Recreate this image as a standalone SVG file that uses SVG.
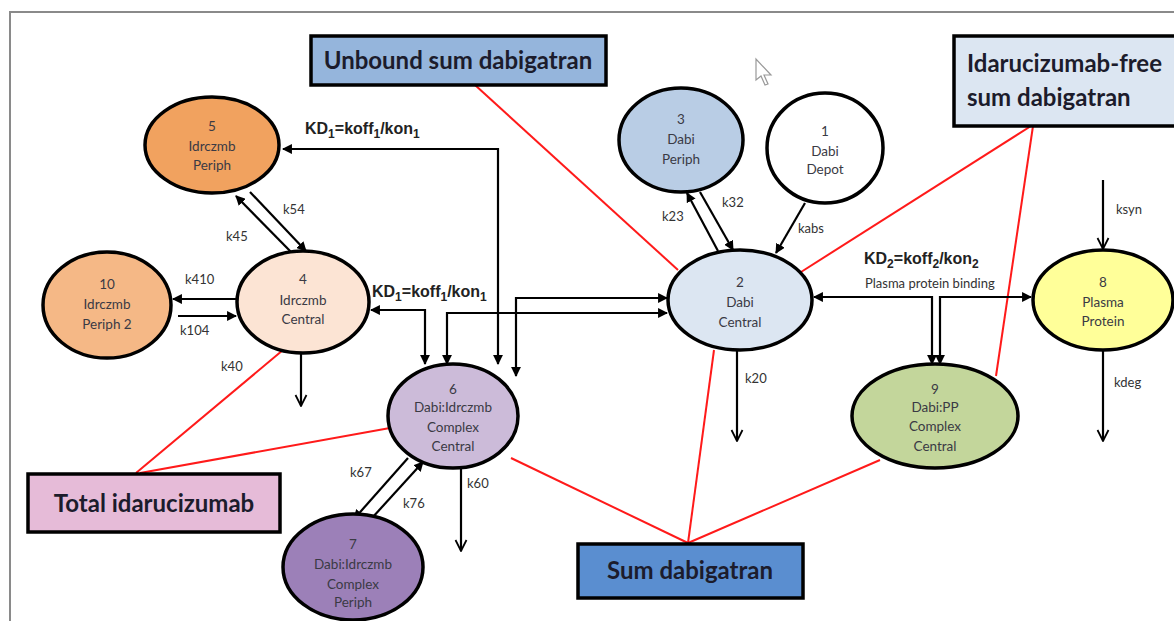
<svg xmlns="http://www.w3.org/2000/svg" width="1174" height="621" viewBox="0 0 1174 621">
<defs>
<marker id="tri" viewBox="0 0 10 10" refX="9" refY="5" markerWidth="4.5" markerHeight="4.5" orient="auto-start-reverse" markerUnits="strokeWidth">
<path d="M0,0 L10,5 L0,10 z" fill="#000"/>
</marker>
<marker id="vee" viewBox="0 0 12 12" refX="11" refY="6" markerWidth="6" markerHeight="6" orient="auto" markerUnits="strokeWidth">
<path d="M1,1 L11,6 L1,11" fill="none" stroke="#000" stroke-width="1.6"/>
</marker>
<style>
.node ellipse{stroke:#000;stroke-width:3.5}
.nt{font-family:Lato,"Liberation Sans",sans-serif;font-size:13.5px;fill:#3a3a44;text-anchor:middle}
.box rect{stroke:#000;stroke-width:3.5}
.bt{font-family:Lato,"Liberation Sans",sans-serif;font-weight:bold;font-size:24px;fill:#1c1c2c}
.ln{stroke:#000;stroke-width:2.2;fill:none}
.red{stroke:#ff1a1a;stroke-width:2;fill:none}
.k{font-family:Lato,"Liberation Sans",sans-serif;font-size:13px;fill:#333}
.kd{font-family:"Liberation Sans",Arial,sans-serif;font-weight:bold;font-size:16px;fill:#222}
.sub{font-size:12px}
</style>
</defs>
<rect width="1174" height="621" fill="#fff"/>
<path d="M10,621 L10,12 L1174,12" fill="none" stroke="#8a8a8a" stroke-width="2"/>
<path d="M756,59 L756,80 L761,76 L765,85 L768,84 L764,75 L771,75 Z" fill="#fff" stroke="#999" stroke-width="1.2"/>

<g id="connectors">
<line class="red" x1="475" y1="85" x2="678" y2="270"/>
<line class="red" x1="1031" y1="126" x2="801" y2="272"/>
<line class="red" x1="1033" y1="126" x2="996" y2="376"/>
<line class="red" x1="136" y1="473" x2="283" y2="350"/>
<line class="red" x1="140" y1="473" x2="390" y2="428"/>
<line class="red" x1="688" y1="543" x2="511" y2="458"/>
<line class="red" x1="688" y1="543" x2="714" y2="350"/>
<line class="red" x1="688" y1="543" x2="880" y2="460"/>

<line class="ln" x1="250" y1="192" x2="306" y2="251" marker-end="url(#tri)"/>
<line class="ln" x1="294" y1="255" x2="236" y2="196" marker-end="url(#tri)"/>
<line class="ln" x1="237" y1="299" x2="173" y2="299" marker-end="url(#tri)"/>
<line class="ln" x1="178" y1="316" x2="236" y2="316" marker-end="url(#tri)"/>
<line class="ln" x1="301" y1="354" x2="301" y2="406" marker-end="url(#vee)"/>
<polyline class="ln" points="283,149 498,149 498,364" marker-start="url(#tri)" marker-end="url(#tri)"/>
<polyline class="ln" points="371,310 425,310 425,364" marker-start="url(#tri)" marker-end="url(#tri)"/>
<polyline class="ln" points="667,313 447,313 447,364" marker-start="url(#tri)" marker-end="url(#tri)"/>
<polyline class="ln" points="667,298 516,298 516,376" marker-start="url(#tri)" marker-end="url(#tri)"/>
<line class="ln" x1="718" y1="251" x2="687" y2="193" marker-end="url(#tri)"/>
<line class="ln" x1="700" y1="192" x2="733" y2="250" marker-end="url(#tri)"/>
<line class="ln" x1="805" y1="203" x2="776" y2="253" marker-end="url(#tri)"/>
<line class="ln" x1="737" y1="351" x2="737" y2="441" marker-end="url(#vee)"/>
<polyline class="ln" points="814,297 932,297 932,364" marker-start="url(#tri)" marker-end="url(#tri)"/>
<polyline class="ln" points="1031,297 940,297 940,364" marker-start="url(#tri)" marker-end="url(#tri)"/>
<line class="ln" x1="1103" y1="180" x2="1103" y2="249" marker-end="url(#vee)"/>
<line class="ln" x1="1103" y1="351" x2="1103" y2="441" marker-end="url(#vee)"/>
<line class="ln" x1="408" y1="458" x2="354" y2="519" marker-end="url(#tri)"/>
<line class="ln" x1="372" y1="518" x2="423" y2="462" marker-end="url(#tri)"/>
<line class="ln" x1="461" y1="469" x2="461" y2="551" marker-end="url(#vee)"/>

<text class="k" x="283" y="214">k54</text>
<text class="k" x="226" y="241">k45</text>
<text class="k" x="185" y="284">k410</text>
<text class="k" x="180" y="335">k104</text>
<text class="k" x="221" y="371">k40</text>
<text class="k" x="662" y="221">k23</text>
<text class="k" x="722" y="207">k32</text>
<text class="k" x="798" y="233">kabs</text>
<text class="k" x="745" y="383">k20</text>
<text class="k" x="1116" y="214">ksyn</text>
<text class="k" x="1114" y="387">kdeg</text>
<text class="k" x="350" y="477">k67</text>
<text class="k" x="403" y="508">k76</text>
<text class="k" x="467" y="488">k60</text>
<text class="kd" x="305" y="134">KD<tspan class="sub" dy="4">1</tspan><tspan dy="-4">=koff</tspan><tspan class="sub" dy="4">1</tspan><tspan dy="-4">/kon</tspan><tspan class="sub" dy="4">1</tspan></text>
<text class="kd" x="372" y="297">KD<tspan class="sub" dy="4">1</tspan><tspan dy="-4">=koff</tspan><tspan class="sub" dy="4">1</tspan><tspan dy="-4">/kon</tspan><tspan class="sub" dy="4">1</tspan></text>
<text class="kd" x="864" y="264">KD<tspan class="sub" dy="4">2</tspan><tspan dy="-4">=koff</tspan><tspan class="sub" dy="4">2</tspan><tspan dy="-4">/kon</tspan><tspan class="sub" dy="4">2</tspan></text>
<text class="k" x="865" y="288" font-size="14">Plasma protein binding</text>
</g>

<g id="node5" class="node"><ellipse cx="212" cy="145" rx="67" ry="48" fill="#F1A25F"/>
<text class="nt" x="212" y="131" fill="#6b3a14">5</text><text class="nt" x="212" y="151">Idrczmb</text><text class="nt" x="212" y="170">Periph</text></g>
<g id="node10" class="node"><ellipse cx="107" cy="305" rx="64" ry="53" fill="#F5B886"/>
<text class="nt" x="107" y="289">10</text><text class="nt" x="107" y="309">Idrczmb</text><text class="nt" x="107" y="329">Periph 2</text></g>
<g id="node4" class="node"><ellipse cx="303" cy="302" rx="66" ry="51" fill="#FCE4D4"/>
<text class="nt" x="303" y="284">4</text><text class="nt" x="303" y="305">Idrczmb</text><text class="nt" x="303" y="324">Central</text></g>
<g id="node6" class="node"><ellipse cx="453" cy="416" rx="65" ry="52" fill="#CCBBD9"/>
<text class="nt" x="453" y="394">6</text><text class="nt" x="453" y="412">Dabi:Idrczmb</text><text class="nt" x="453" y="432">Complex</text><text class="nt" x="453" y="451">Central</text></g>
<g id="node7" class="node"><ellipse cx="353" cy="567" rx="70" ry="53" fill="#9C80B8"/>
<text class="nt" x="353" y="549">7</text><text class="nt" x="353" y="569">Dabi:Idrczmb</text><text class="nt" x="353" y="589">Complex</text><text class="nt" x="353" y="607">Periph</text></g>
<g id="node3" class="node"><ellipse cx="681" cy="140" rx="62" ry="52" fill="#B9CDE5"/>
<text class="nt" x="681" y="124">3</text><text class="nt" x="681" y="144">Dabi</text><text class="nt" x="681" y="164">Periph</text></g>
<g id="node1" class="node"><ellipse cx="825" cy="148" rx="58" ry="55" fill="#fff"/>
<text class="nt" x="825" y="136">1</text><text class="nt" x="825" y="156">Dabi</text><text class="nt" x="825" y="174">Depot</text></g>
<g id="node2" class="node"><ellipse cx="740" cy="300" rx="72" ry="50" fill="#DCE6F2"/>
<text class="nt" x="740" y="287">2</text><text class="nt" x="740" y="307">Dabi</text><text class="nt" x="740" y="327">Central</text></g>
<g id="node8" class="node"><ellipse cx="1103" cy="300" rx="70" ry="50" fill="#FFFF99"/>
<text class="nt" x="1103" y="287">8</text><text class="nt" x="1103" y="307">Plasma</text><text class="nt" x="1103" y="326">Protein</text></g>
<g id="node9" class="node"><ellipse cx="935" cy="416" rx="83" ry="52" fill="#C3D69B"/>
<text class="nt" x="935" y="394">9</text><text class="nt" x="935" y="412">Dabi:PP</text><text class="nt" x="935" y="431">Complex</text><text class="nt" x="935" y="451">Central</text></g>

<g id="box-unbound" class="box"><rect x="311" y="36" width="295" height="49" fill="#95B5DC"/>
<text class="bt" x="458" y="69" text-anchor="middle">Unbound sum dabigatran</text></g>
<g id="box-free" class="box"><rect x="954" y="36" width="225" height="90" fill="#DCE6F2"/>
<text class="bt" x="967" y="72">Idarucizumab-free</text><text class="bt" x="967" y="106">sum dabigatran</text></g>
<g id="box-total" class="box"><rect x="28" y="474" width="252" height="58" fill="#E6BBD8"/>
<text class="bt" x="154" y="512" text-anchor="middle">Total idarucizumab</text></g>
<g id="box-sum" class="box"><rect x="578" y="544" width="225" height="54" fill="#5A8ED0"/>
<text class="bt" x="690" y="579" text-anchor="middle">Sum dabigatran</text></g>
</svg>
